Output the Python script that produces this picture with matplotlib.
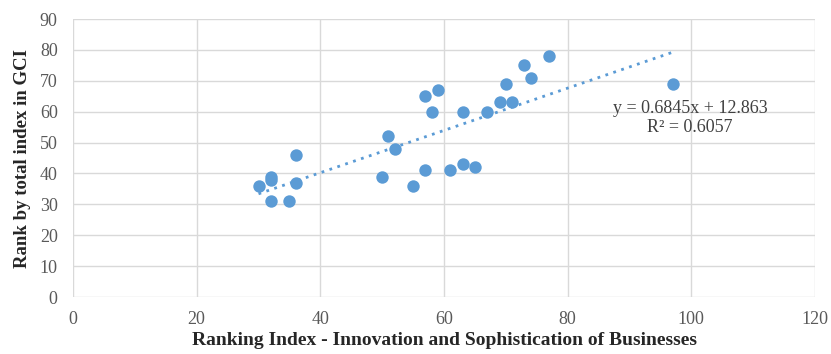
import numpy as np
import matplotlib

matplotlib.use("Agg")
import matplotlib.pyplot as plt

# Data
innovation_rank = [30, 32, 32, 32, 35, 36, 36, 50, 51, 52, 55, 57, 57, 58, 59,
                   61, 63, 63, 65, 67, 69, 70, 71, 73, 74, 77, 97]
gci_rank = [36, 39, 38, 31, 31, 46, 37, 39, 52, 48, 36, 41, 65, 60, 67,
            41, 43, 60, 42, 60, 63, 69, 63, 75, 71, 78, 69]

# trend line as printed on the chart
slope = 0.6845
intercept = 12.863
r_squared = 0.6057

plt.rcParams["font.family"] = ["Liberation Serif", "DejaVu Serif"]

fig = plt.figure(figsize=(8.31, 3.54), dpi=100)
ax = fig.add_axes([73 / 831, 1 - 297 / 354, (815 - 73) / 831, (297 - 19) / 354])

x = np.array(innovation_rank, dtype=float)
y = np.array(gci_rank, dtype=float)

ax.scatter(x, y, s=80, color="#5b9bd5", zorder=3, linewidths=0)

xs = np.array([x.min(), x.max()])
ax.plot(xs, slope * xs + intercept, color="#5b9bd5", lw=2, ls=(0, (1, 2)), zorder=2)

ax.text(99.8, 58.0, f"y = {slope}x + {intercept}\nR² = {r_squared}",
        ha="center", va="center", fontsize=13, color="#404040", linespacing=1.2)

ax.set_xlim(0, 120)
ax.set_ylim(0, 90)
ax.set_xticks(range(0, 121, 20))
ax.set_yticks(range(0, 91, 10))
ax.grid(True, color="#d9d9d9", lw=1)
ax.set_axisbelow(True)
for s in ax.spines.values():
    s.set_visible(False)
ax.tick_params(length=0, labelsize=13, labelcolor="#595959")
ax.tick_params(axis="y", pad=11)
ax.tick_params(axis="x", pad=10)

ax.set_xlabel("Ranking Index - Innovation and Sophistication of Businesses",
              fontsize=14, fontweight="bold", color="#262626", labelpad=3)
ax.set_ylabel("Rank by total index in GCI", fontsize=13.5, fontweight="bold",
              color="#262626", labelpad=6)

fig.savefig("out.png", dpi=100)
